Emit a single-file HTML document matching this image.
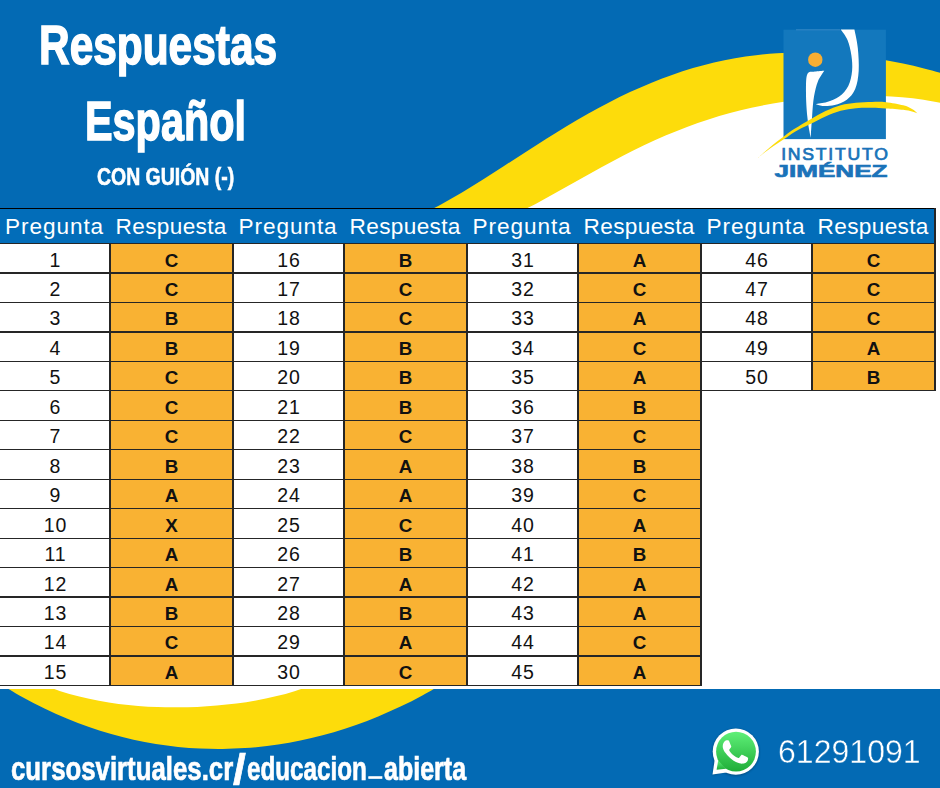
<!DOCTYPE html>
<html lang="es"><head><meta charset="utf-8"><title>Respuestas Español</title>
<style>
html,body{margin:0;padding:0;width:940px;height:788px;overflow:hidden;background:#fff}
#page{width:940px;height:788px;position:relative;overflow:hidden;background:#fff;font-family:"Liberation Sans",sans-serif}
.abs{position:absolute}
.t{position:absolute;white-space:nowrap;color:#fff;font-weight:bold;transform-origin:0 0;line-height:1}
.c{position:absolute;box-sizing:border-box;text-align:center;white-space:nowrap;overflow:hidden}
.n{background:#fff;color:#111;font-size:19.5px;line-height:32px;letter-spacing:1px;text-indent:1px}
.a{background:#f9b233;color:#111;font-size:18.8px;font-weight:bold;line-height:34.6px}
.h{color:#fff;font-size:22.6px;line-height:34.6px}
.ln{position:absolute;background:#262626}
.hp{letter-spacing:.91px;text-indent:-.9px}.hr{letter-spacing:.35px;text-indent:-.6px}
</style></head><body><div id="page">
<svg class="abs" style="left:0;top:0" width="940" height="788" viewBox="0 0 940 788">
<rect x="0" y="0" width="940" height="232" fill="#036ab4"/>
<path d="M420.0 215.0 C423.5 213.3 434.0 208.2 441.0 204.5 C448.0 200.7 455.0 196.6 462.0 192.5 C469.0 188.3 476.0 183.9 483.0 179.5 C490.0 175.1 497.0 170.6 504.0 166.0 C511.0 161.5 518.0 156.9 525.0 152.4 C532.0 147.9 539.0 143.4 546.0 139.0 C553.0 134.6 560.0 130.3 567.0 126.1 C574.0 121.9 581.0 117.8 588.0 113.8 C595.0 109.9 602.0 106.1 609.0 102.5 C616.0 98.8 623.0 95.4 630.0 92.1 C637.0 88.9 644.0 85.8 651.0 82.9 C658.0 80.0 665.0 77.3 672.0 74.9 C679.0 72.4 686.0 70.1 693.0 68.1 C700.0 66.0 707.0 64.2 714.0 62.5 C721.0 60.9 728.0 59.5 735.0 58.2 C742.0 57.0 749.0 56.0 756.0 55.2 C763.0 54.3 770.0 53.7 777.0 53.3 C784.0 52.8 791.0 52.6 798.0 52.5 C805.0 52.4 812.0 52.6 819.0 52.8 C826.0 53.1 833.0 53.6 840.0 54.2 C847.0 54.8 854.0 55.5 861.0 56.4 C868.0 57.3 875.0 58.4 882.0 59.6 C889.0 60.8 896.0 62.2 903.0 63.6 C910.0 65.1 917.0 66.7 924.0 68.5 C931.0 70.2 941.5 73.2 945.0 74.1 L945 232 L420 232 Z" fill="#fddc0b"/>
<path d="M515.0 214.0 C518.6 212.3 529.3 207.1 536.5 203.4 C543.7 199.6 550.8 195.6 558.0 191.6 C565.2 187.7 572.3 183.6 579.5 179.5 C586.7 175.5 593.8 171.5 601.0 167.5 C608.2 163.6 615.3 159.8 622.5 156.1 C629.7 152.4 636.8 148.8 644.0 145.3 C651.2 141.9 658.3 138.7 665.5 135.6 C672.7 132.5 679.8 129.7 687.0 127.0 C694.2 124.3 701.3 121.8 708.5 119.5 C715.7 117.1 722.8 115.0 730.0 113.1 C737.2 111.1 744.3 109.4 751.5 107.8 C758.7 106.2 765.8 104.8 773.0 103.6 C780.2 102.3 787.3 101.2 794.5 100.3 C801.7 99.4 808.8 98.6 816.0 97.9 C823.2 97.3 830.3 96.8 837.5 96.5 C844.7 96.1 851.8 95.9 859.0 95.8 C866.2 95.8 873.3 95.8 880.5 96.1 C887.7 96.3 894.8 96.7 902.0 97.3 C909.2 97.9 916.3 98.7 923.5 99.7 C930.7 100.8 941.4 102.9 945.0 103.6 L945 232 L515 232 Z" fill="#fff"/>
<rect x="0" y="689" width="940" height="99" fill="#036ab4"/>
<clipPath id="cb"><rect x="0" y="689" width="940" height="99"/></clipPath>
<g clip-path="url(#cb)"><path d="M0.0 683.8 C3.7 686.0 14.8 692.9 22.2 697.0 C29.7 701.1 37.1 705.0 44.5 708.6 C51.9 712.2 59.3 715.5 66.8 718.6 C74.2 721.6 81.6 724.5 89.0 727.0 C96.4 729.6 103.8 732.0 111.2 734.1 C118.7 736.2 126.1 738.0 133.5 739.7 C140.9 741.3 148.3 742.8 155.8 744.0 C163.2 745.2 170.6 746.1 178.0 746.9 C185.4 747.7 192.8 748.2 200.2 748.6 C207.7 748.9 215.1 749.1 222.5 749.0 C229.9 748.9 237.3 748.6 244.8 748.1 C252.2 747.6 259.6 746.9 267.0 746.0 C274.4 745.1 281.8 744.0 289.2 742.7 C296.7 741.4 304.1 739.8 311.5 738.1 C318.9 736.3 326.3 734.4 333.8 732.2 C341.2 730.0 348.6 727.6 356.0 725.0 C363.4 722.4 370.8 719.6 378.2 716.5 C385.7 713.4 393.1 710.1 400.5 706.6 C407.9 703.0 415.3 699.3 422.8 695.2 C430.2 691.2 441.3 684.6 445.0 682.4 L445 680 L0 680 Z" fill="#fddc0b"/>
<path d="M40.0 683.5 C43.3 684.7 53.1 688.7 59.6 690.9 C66.2 693.1 72.7 694.9 79.3 696.6 C85.8 698.2 92.4 699.6 98.9 700.8 C105.5 702.1 112.0 703.1 118.6 703.9 C125.1 704.7 131.7 705.4 138.2 705.9 C144.7 706.4 151.3 706.8 157.8 707.0 C164.4 707.3 170.9 707.4 177.5 707.3 C184.0 707.3 190.6 707.2 197.1 706.9 C203.7 706.6 210.2 706.2 216.8 705.6 C223.3 705.0 229.9 704.3 236.4 703.5 C242.9 702.6 249.5 701.6 256.0 700.4 C262.6 699.2 269.1 697.9 275.7 696.3 C282.2 694.7 288.8 693.0 295.3 690.9 C301.9 688.9 311.7 685.1 315.0 684.0 L315 680 L40 680 Z" fill="#fff"/></g>
</svg>
<div class="t" id="t1" style="left:38.9px;top:17.1px;font-size:56px;-webkit-text-stroke:1.5px #fff;transform:scaleX(.7574)">Respuestas</div>
<div class="t" id="t2" style="left:84.85px;top:93.2px;font-size:56px;-webkit-text-stroke:1.5px #fff;transform:scaleX(.7388)">Español</div>
<div class="t" id="t3" style="left:97.1px;top:166.3px;font-size:23.6px;-webkit-text-stroke:.6px #fff;transform:scaleX(.824)">CON GUIÓN (-)</div>
<svg class="abs" style="left:750px;top:20px" width="190" height="175" viewBox="750 20 190 175">
<rect x="783.5" y="29.7" width="102.4" height="109.4" fill="#1378bd"/>
<rect x="796" y="29.3" width="44" height="1" fill="#3f8fcb" opacity=".8"/>
<circle cx="815.3" cy="59.7" r="7.2" fill="#f7ae33"/>
<path d="M810.7 137.8 C810.5 136.8 810.1 135.3 809.5 131.7 C808.9 128.1 807.9 122.8 807.3 116.4 C806.7 110.1 806.0 100.6 806.0 93.6 C806.0 86.6 805.7 78.2 807.2 74.5 C808.7 70.8 811.9 72.2 814.8 71.6 C817.6 71.0 822.7 70.8 824.3 70.7 L824.3 70.7 C823.2 72.5 819.6 77.1 817.9 81.4 C816.2 85.7 815.0 90.8 814.0 96.6 C813.0 102.4 812.6 109.5 812.1 116.4 C811.6 123.3 810.9 134.2 810.7 137.8 Z" fill="#fff"/>
<path d="M840.7 29.6 C841.9 31.4 845.8 35.9 847.6 40.2 C849.4 44.5 850.6 50.4 851.4 55.5 C852.1 60.6 852.6 65.6 852.1 70.7 C851.6 75.8 850.4 81.7 848.3 86.0 C846.1 90.3 842.8 93.9 839.2 96.6 C835.7 99.3 830.9 100.8 827.0 102.0 C823.1 103.2 817.5 103.7 815.6 104.0 L815.6 104.0 C816.8 104.3 819.3 105.7 822.5 105.9 C825.7 106.1 830.6 106.0 834.6 105.0 C838.6 104.0 843.4 102.4 846.8 99.7 C850.2 97.0 853.2 93.8 855.2 89.0 C857.2 84.2 858.3 77.5 858.7 70.7 C859.1 63.9 858.5 54.8 857.8 47.9 C857.1 41.0 855.0 32.6 854.4 29.6 Z" fill="#fff"/>
<path d="M757.7 158.0 C759.8 156.2 765.5 150.9 770.0 147.2 C774.5 143.5 780.3 139.1 784.5 136.0 C788.7 132.9 790.7 131.3 795.0 128.6 C799.3 125.8 805.1 122.4 810.2 119.5 C815.3 116.6 820.4 113.5 825.5 111.1 C830.6 108.7 835.6 106.6 840.7 105.2 C845.8 103.8 850.8 103.2 856.0 102.7 C861.2 102.2 867.0 102.0 872.0 101.9 C877.0 101.8 880.8 101.6 886.0 102.2 C891.2 102.8 898.9 104.2 903.2 105.3 C907.5 106.4 909.6 107.7 912.0 109.0 C914.4 110.3 916.5 112.6 917.4 113.3 L917.4 113.3 C916.5 113.0 914.4 112.1 912.0 111.5 C909.6 110.9 907.5 110.3 903.2 109.8 C898.9 109.3 891.2 108.7 886.0 108.4 C880.8 108.1 877.0 107.8 872.0 107.8 C867.0 107.8 861.2 107.7 856.0 108.2 C850.8 108.7 845.8 109.4 840.7 110.8 C835.6 112.2 830.6 114.2 825.5 116.4 C820.4 118.6 815.3 121.5 810.2 124.0 C805.1 126.5 799.3 129.2 795.0 131.7 C790.7 134.2 788.7 136.0 784.5 138.8 C780.3 141.6 774.5 145.4 770.0 148.6 C765.5 151.8 759.8 156.4 757.7 158.0 Z" fill="#fddc0b"/>
<text id="lg1" x="835.4" y="160.2" text-anchor="middle" font-family="Liberation Sans, sans-serif" font-size="16" fill="#1a73b9" stroke="#1a73b9" stroke-width=".7" letter-spacing="1.6" textLength="108.5" lengthAdjust="spacingAndGlyphs">INSTITUTO</text>
<text id="lg2" x="831" y="177" text-anchor="middle" font-family="Liberation Sans, sans-serif" font-size="16.2" font-weight="bold" fill="#1a73b9" stroke="#1a73b9" stroke-width=".6" textLength="113" lengthAdjust="spacingAndGlyphs">JIMÉNEZ</text>
</svg>
<div class="abs" id="tbl" style="left:0;top:0;width:940px;height:788px">
<div class="abs" style="left:0;top:208px;width:940px;height:481px;background:transparent"></div>
<div class="abs" style="left:0;top:208px;width:936px;height:36.0px;background:#026db9"></div>
<div class="c h hp" style="left:0px;top:209.5px;width:110px;height:34px">Pregunta</div>
<div class="c h hr" style="left:110px;top:209.5px;width:123px;height:34px">Respuesta</div>
<div class="c h hp" style="left:233px;top:209.5px;width:111px;height:34px">Pregunta</div>
<div class="c h hr" style="left:344px;top:209.5px;width:123px;height:34px">Respuesta</div>
<div class="c h hp" style="left:467px;top:209.5px;width:111px;height:34px">Pregunta</div>
<div class="c h hr" style="left:578px;top:209.5px;width:123px;height:34px">Respuesta</div>
<div class="c h hp" style="left:701px;top:209.5px;width:111px;height:34px">Pregunta</div>
<div class="c h hr" style="left:812px;top:209.5px;width:123px;height:34px">Respuesta</div>
<div class="c n" style="left:0px;top:243.5px;width:110px;height:29.46px">1</div><div class="c a" style="left:110px;top:243.5px;width:123px;height:29.46px">C</div>
<div class="c n" style="left:0px;top:272.96px;width:110px;height:29.46px">2</div><div class="c a" style="left:110px;top:272.96px;width:123px;height:29.46px">C</div>
<div class="c n" style="left:0px;top:302.42px;width:110px;height:29.46px">3</div><div class="c a" style="left:110px;top:302.42px;width:123px;height:29.46px">B</div>
<div class="c n" style="left:0px;top:331.88px;width:110px;height:29.46px">4</div><div class="c a" style="left:110px;top:331.88px;width:123px;height:29.46px">B</div>
<div class="c n" style="left:0px;top:361.34000000000003px;width:110px;height:29.46px">5</div><div class="c a" style="left:110px;top:361.34000000000003px;width:123px;height:29.46px">C</div>
<div class="c n" style="left:0px;top:390.8px;width:110px;height:29.46px">6</div><div class="c a" style="left:110px;top:390.8px;width:123px;height:29.46px">C</div>
<div class="c n" style="left:0px;top:420.26px;width:110px;height:29.46px">7</div><div class="c a" style="left:110px;top:420.26px;width:123px;height:29.46px">C</div>
<div class="c n" style="left:0px;top:449.72px;width:110px;height:29.46px">8</div><div class="c a" style="left:110px;top:449.72px;width:123px;height:29.46px">B</div>
<div class="c n" style="left:0px;top:479.18px;width:110px;height:29.46px">9</div><div class="c a" style="left:110px;top:479.18px;width:123px;height:29.46px">A</div>
<div class="c n" style="left:0px;top:508.64px;width:110px;height:29.46px">10</div><div class="c a" style="left:110px;top:508.64px;width:123px;height:29.46px">X</div>
<div class="c n" style="left:0px;top:538.1px;width:110px;height:29.46px">11</div><div class="c a" style="left:110px;top:538.1px;width:123px;height:29.46px">A</div>
<div class="c n" style="left:0px;top:567.56px;width:110px;height:29.46px">12</div><div class="c a" style="left:110px;top:567.56px;width:123px;height:29.46px">A</div>
<div class="c n" style="left:0px;top:597.02px;width:110px;height:29.46px">13</div><div class="c a" style="left:110px;top:597.02px;width:123px;height:29.46px">B</div>
<div class="c n" style="left:0px;top:626.48px;width:110px;height:29.46px">14</div><div class="c a" style="left:110px;top:626.48px;width:123px;height:29.46px">C</div>
<div class="c n" style="left:0px;top:655.94px;width:110px;height:29.46px">15</div><div class="c a" style="left:110px;top:655.94px;width:123px;height:29.46px">A</div>
<div class="c n" style="left:233px;top:243.5px;width:111px;height:29.46px">16</div><div class="c a" style="left:344px;top:243.5px;width:123px;height:29.46px">B</div>
<div class="c n" style="left:233px;top:272.96px;width:111px;height:29.46px">17</div><div class="c a" style="left:344px;top:272.96px;width:123px;height:29.46px">C</div>
<div class="c n" style="left:233px;top:302.42px;width:111px;height:29.46px">18</div><div class="c a" style="left:344px;top:302.42px;width:123px;height:29.46px">C</div>
<div class="c n" style="left:233px;top:331.88px;width:111px;height:29.46px">19</div><div class="c a" style="left:344px;top:331.88px;width:123px;height:29.46px">B</div>
<div class="c n" style="left:233px;top:361.34000000000003px;width:111px;height:29.46px">20</div><div class="c a" style="left:344px;top:361.34000000000003px;width:123px;height:29.46px">B</div>
<div class="c n" style="left:233px;top:390.8px;width:111px;height:29.46px">21</div><div class="c a" style="left:344px;top:390.8px;width:123px;height:29.46px">B</div>
<div class="c n" style="left:233px;top:420.26px;width:111px;height:29.46px">22</div><div class="c a" style="left:344px;top:420.26px;width:123px;height:29.46px">C</div>
<div class="c n" style="left:233px;top:449.72px;width:111px;height:29.46px">23</div><div class="c a" style="left:344px;top:449.72px;width:123px;height:29.46px">A</div>
<div class="c n" style="left:233px;top:479.18px;width:111px;height:29.46px">24</div><div class="c a" style="left:344px;top:479.18px;width:123px;height:29.46px">A</div>
<div class="c n" style="left:233px;top:508.64px;width:111px;height:29.46px">25</div><div class="c a" style="left:344px;top:508.64px;width:123px;height:29.46px">C</div>
<div class="c n" style="left:233px;top:538.1px;width:111px;height:29.46px">26</div><div class="c a" style="left:344px;top:538.1px;width:123px;height:29.46px">B</div>
<div class="c n" style="left:233px;top:567.56px;width:111px;height:29.46px">27</div><div class="c a" style="left:344px;top:567.56px;width:123px;height:29.46px">A</div>
<div class="c n" style="left:233px;top:597.02px;width:111px;height:29.46px">28</div><div class="c a" style="left:344px;top:597.02px;width:123px;height:29.46px">B</div>
<div class="c n" style="left:233px;top:626.48px;width:111px;height:29.46px">29</div><div class="c a" style="left:344px;top:626.48px;width:123px;height:29.46px">A</div>
<div class="c n" style="left:233px;top:655.94px;width:111px;height:29.46px">30</div><div class="c a" style="left:344px;top:655.94px;width:123px;height:29.46px">C</div>
<div class="c n" style="left:467px;top:243.5px;width:111px;height:29.46px">31</div><div class="c a" style="left:578px;top:243.5px;width:123px;height:29.46px">A</div>
<div class="c n" style="left:467px;top:272.96px;width:111px;height:29.46px">32</div><div class="c a" style="left:578px;top:272.96px;width:123px;height:29.46px">C</div>
<div class="c n" style="left:467px;top:302.42px;width:111px;height:29.46px">33</div><div class="c a" style="left:578px;top:302.42px;width:123px;height:29.46px">A</div>
<div class="c n" style="left:467px;top:331.88px;width:111px;height:29.46px">34</div><div class="c a" style="left:578px;top:331.88px;width:123px;height:29.46px">C</div>
<div class="c n" style="left:467px;top:361.34000000000003px;width:111px;height:29.46px">35</div><div class="c a" style="left:578px;top:361.34000000000003px;width:123px;height:29.46px">A</div>
<div class="c n" style="left:467px;top:390.8px;width:111px;height:29.46px">36</div><div class="c a" style="left:578px;top:390.8px;width:123px;height:29.46px">B</div>
<div class="c n" style="left:467px;top:420.26px;width:111px;height:29.46px">37</div><div class="c a" style="left:578px;top:420.26px;width:123px;height:29.46px">C</div>
<div class="c n" style="left:467px;top:449.72px;width:111px;height:29.46px">38</div><div class="c a" style="left:578px;top:449.72px;width:123px;height:29.46px">B</div>
<div class="c n" style="left:467px;top:479.18px;width:111px;height:29.46px">39</div><div class="c a" style="left:578px;top:479.18px;width:123px;height:29.46px">C</div>
<div class="c n" style="left:467px;top:508.64px;width:111px;height:29.46px">40</div><div class="c a" style="left:578px;top:508.64px;width:123px;height:29.46px">A</div>
<div class="c n" style="left:467px;top:538.1px;width:111px;height:29.46px">41</div><div class="c a" style="left:578px;top:538.1px;width:123px;height:29.46px">B</div>
<div class="c n" style="left:467px;top:567.56px;width:111px;height:29.46px">42</div><div class="c a" style="left:578px;top:567.56px;width:123px;height:29.46px">A</div>
<div class="c n" style="left:467px;top:597.02px;width:111px;height:29.46px">43</div><div class="c a" style="left:578px;top:597.02px;width:123px;height:29.46px">A</div>
<div class="c n" style="left:467px;top:626.48px;width:111px;height:29.46px">44</div><div class="c a" style="left:578px;top:626.48px;width:123px;height:29.46px">C</div>
<div class="c n" style="left:467px;top:655.94px;width:111px;height:29.46px">45</div><div class="c a" style="left:578px;top:655.94px;width:123px;height:29.46px">A</div>
<div class="c n" style="left:701px;top:243.5px;width:111px;height:29.46px">46</div><div class="c a" style="left:812px;top:243.5px;width:123px;height:29.46px">C</div>
<div class="c n" style="left:701px;top:272.96px;width:111px;height:29.46px">47</div><div class="c a" style="left:812px;top:272.96px;width:123px;height:29.46px">C</div>
<div class="c n" style="left:701px;top:302.42px;width:111px;height:29.46px">48</div><div class="c a" style="left:812px;top:302.42px;width:123px;height:29.46px">C</div>
<div class="c n" style="left:701px;top:331.88px;width:111px;height:29.46px">49</div><div class="c a" style="left:812px;top:331.88px;width:123px;height:29.46px">A</div>
<div class="c n" style="left:701px;top:361.34000000000003px;width:111px;height:29.46px">50</div><div class="c a" style="left:812px;top:361.34000000000003px;width:123px;height:29.46px">B</div>
<div class="abs" style="left:701px;top:390.8px;width:239px;height:298.2px;background:#fff"></div>
<div class="abs" style="left:0;top:685.4000000000001px;width:940px;height:3.599999999999909px;background:#fff"></div>
<div class="ln" style="left:0;top:208px;width:936px;height:1.3px;background:#000"></div>
<div class="ln" style="left:0;top:242.9px;width:936px;height:1.3px"></div>
<div class="ln" style="left:0;top:272.35999999999996px;width:936px;height:1.3px"></div>
<div class="ln" style="left:0;top:301.82px;width:936px;height:1.3px"></div>
<div class="ln" style="left:0;top:331.28px;width:936px;height:1.3px"></div>
<div class="ln" style="left:0;top:360.74px;width:936px;height:1.3px"></div>
<div class="ln" style="left:0;top:390.2px;width:936px;height:1.3px"></div>
<div class="ln" style="left:0;top:419.65999999999997px;width:702px;height:1.3px"></div>
<div class="ln" style="left:0;top:449.12px;width:702px;height:1.3px"></div>
<div class="ln" style="left:0;top:478.58px;width:702px;height:1.3px"></div>
<div class="ln" style="left:0;top:508.03999999999996px;width:702px;height:1.3px"></div>
<div class="ln" style="left:0;top:537.5px;width:702px;height:1.3px"></div>
<div class="ln" style="left:0;top:566.9599999999999px;width:702px;height:1.3px"></div>
<div class="ln" style="left:0;top:596.42px;width:702px;height:1.3px"></div>
<div class="ln" style="left:0;top:625.88px;width:702px;height:1.3px"></div>
<div class="ln" style="left:0;top:655.34px;width:702px;height:1.3px"></div>
<div class="ln" style="left:0;top:684.8000000000001px;width:702px;height:1.3px"></div>
<div class="ln" style="left:109.4px;top:243.5px;width:1.3px;height:441.9000000000001px"></div>
<div class="ln" style="left:232.4px;top:243.5px;width:1.3px;height:441.9000000000001px"></div>
<div class="ln" style="left:343.4px;top:243.5px;width:1.3px;height:441.9000000000001px"></div>
<div class="ln" style="left:466.4px;top:243.5px;width:1.3px;height:441.9000000000001px"></div>
<div class="ln" style="left:577.4px;top:243.5px;width:1.3px;height:441.9000000000001px"></div>
<div class="ln" style="left:700.4px;top:243.5px;width:1.3px;height:441.9000000000001px"></div>
<div class="ln" style="left:811.4px;top:243.5px;width:1.3px;height:147.3px"></div>
<div class="ln" style="left:934.4px;top:208px;width:1.3px;height:182.8px"></div>
</div>
<div class="abs" id="url" style="left:0;top:0;width:0;height:0"><span class="t" style="left:11.35px;top:752.2px;font-size:33px;-webkit-text-stroke:.7px #fff;transform:scaleX(.7815)">cursosvirtuales.cr</span><span class="t" style="left:233.2px;top:748.5px;font-size:42px;-webkit-text-stroke:.7px #fff;transform:scaleX(1.1)">/</span><span class="t" style="left:247px;top:752.2px;font-size:33px;-webkit-text-stroke:.7px #fff;transform:scaleX(.7337)">educacion</span><span class="t" style="left:369px;top:746.3px;font-size:33px;-webkit-text-stroke:1.2px #fff;transform:scaleX(.69)">_</span><span class="t" style="left:383.5px;top:752.2px;font-size:33px;-webkit-text-stroke:.7px #fff;transform:scaleX(.7587)">abierta</span></div>
<div class="t" id="t5" style="left:777.6px;top:735.7px;font-size:32.8px;font-weight:normal;transform:scaleX(.978);-webkit-text-stroke:.45px #036ab4">61291091</div>
<svg class="abs" style="left:700px;top:720px" width="70" height="68" viewBox="700 720 70 68">
<defs><linearGradient id="wg" x1="0" y1="0" x2="0" y2="1"><stop offset="0" stop-color="#5ff078"/><stop offset="1" stop-color="#1fad38"/></linearGradient>
<filter id="ws" x="-20%" y="-20%" width="140%" height="140%"><feGaussianBlur stdDeviation="1.1"/></filter></defs>
<g opacity=".28" filter="url(#ws)"><circle cx="735.8" cy="752.3" r="23.4"/><path d="M714 760 L712.5 775.2 L728 771 Z"/></g>
<g fill="#fff"><circle cx="735.8" cy="751.6" r="23.1"/><path d="M714.6 760.5 L712.5 774.4 L726.5 772.6 Z"/></g>
<g fill="url(#wg)"><circle cx="736" cy="751.6" r="19.9"/><path d="M718.2 760.5 L716.6 769.8 L726 768.8 Z"/></g>
<g transform="translate(736.05 752.15) scale(2.1) translate(-12.35 -12.1)"><path fill="#fff" d="M17.472 14.382c-.297-.149-1.758-.867-2.03-.967-.273-.099-.471-.148-.67.15-.197.297-.767.966-.94 1.164-.173.199-.347.223-.644.075-.297-.15-1.255-.463-2.39-1.475-.883-.788-1.48-1.761-1.653-2.059-.173-.297-.018-.458.13-.606.134-.133.298-.347.446-.52.149-.174.198-.298.298-.497.099-.198.05-.371-.025-.52-.075-.149-.669-1.612-.916-2.207-.242-.579-.487-.5-.669-.51-.173-.008-.371-.01-.57-.01-.198 0-.52.074-.792.372-.272.297-1.04 1.016-1.04 2.479 0 1.462 1.065 2.875 1.213 3.074.149.198 2.096 3.2 5.077 4.487.709.306 1.262.489 1.694.625.712.227 1.36.195 1.871.118.571-.085 1.758-.719 2.006-1.413.248-.694.248-1.289.173-1.413-.074-.124-.272-.198-.57-.347"/></g>
</svg>
</div></body></html>
